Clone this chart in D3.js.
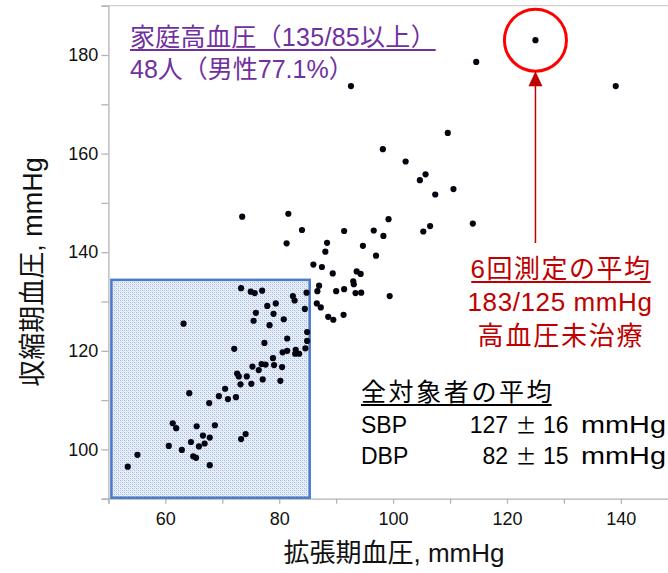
<!DOCTYPE html>
<html>
<head>
<meta charset="utf-8">
<script src="https://cdn.jsdelivr.net/npm/d3@7"></script>
<style>
  body { margin: 0; background: #fff; }
  svg { display: block; }
</style>
</head>
<body>
<svg id="chart" width="668" height="573"></svg>
<script>
// Diastolic (x) and systolic (y) home blood pressure, one entry per subject
const dbp = [73.3,75.0,75.7,77.0,82.4,82.7,84.8,87.0,86.7,86.6,87.3,88.6,77.9,79.4,75.9,79.0,75.5,80.8,78.3,84.5,
             63.2,84.9,84.9,81.4,77.4,72.1,80.6,81.4,82.9,82.8,83.5,84.6,78.9,75.3,76.9,77.6,76.4,79.1,80.5,72.6,
             72.9,74.3,73.2,75.1,77.1,80.2,70.5,69.4,71.0,72.4,64.2,67.7,61.3,61.9,65.5,68.7,66.6,67.8,64.5,65.9,
             66.9,60.6,62.9,73.3,74.1,55.1,64.9,65.4,53.4,67.8,
             98.2,102.2,73.5,81.6,84.0,81.3,91.4,96.6,99.2,98.3,88.4,88.1,94.7,97.0,86.0,87.5,89.4,93.6,94.3,93.0,
             93.1,90.0,91.4,93.4,94.4,99.4,89.5,91.3,
             125,114.6,92.6,139.1,109.6,105.7,104.7,107.4,110.6,105.3,106.5,114.0];
const sbp = [132.7,132.0,131.7,132.2,131.1,130.2,131.8,133.2,132.1,129.6,128.8,126.9,129.1,129.6,127.7,127.5,126.1,126.4,125.2,128.5,
             125.5,123.8,122.0,122.5,121.6,120.4,119.7,120.0,120.2,119.4,119.4,120.5,118.5,116.8,117.3,117.2,116.1,117.1,116.7,115.4,
             114.8,114.8,113.2,113.3,114.2,113.9,112.3,110.8,110.2,110.6,111.4,109.4,105.3,104.3,104.7,104.9,102.8,102.4,101.5,100.6,
             101.2,100.7,99.9,102.1,103.1,98.9,98.6,98.3,96.5,96.8,
             160.9,158.4,147.2,147.8,144.5,141.8,144.3,144.4,146.7,143.3,141.9,140.1,141.3,139.3,137.5,137.0,135.7,136.1,135.6,134.1,
             133.5,132.1,132.5,131.7,131.8,131.1,126.3,127.3,
             183,178.6,173.7,173.7,164.2,155.8,154.6,151.7,152.8,144.2,145.3,145.8];

const xDomain = [50, 150];
const yDomain = [90, 190];
const xTicks = [60, 80, 100, 120, 140];
const yTicks = [100, 120, 140, 160, 180];
const xMinor = d3.range(50, 151, 10);
const yMinor = d3.range(90, 191, 10);

// Home hypertension threshold region (DBP < 85, SBP < 135)
const boxDbp = [50, 85];
const boxSbp = [90, 135];

// Highlighted subject: mean of six measurements
const highlight = { dbp: 125, sbp: 183 };

// Summary of all subjects: [label, mean, SD]
const summaryRows = [["SBP", 127, 16], ["DBP", 82, 15]];

const svg = d3.select("#chart");
const latin = "'Liberation Sans', Arial, 'Noto Sans CJK JP', sans-serif";
const cjk = "'Noto Sans CJK JP', sans-serif";

const x = d3.scaleLinear().domain(xDomain).range([108.4, 677.8]);
const y = d3.scaleLinear().domain(yDomain).range([498.7, 5.7]);

// Dotted fill for the threshold region
const defs = svg.append("defs");
const pat = defs.append("pattern").attr("id", "dots")
  .attr("width", 4).attr("height", 4).attr("patternUnits", "userSpaceOnUse");
pat.append("rect").attr("width", 4).attr("height", 4).attr("fill", "#e9eff9");
[[0,0,"#9fb6e3"],[2,2,"#9fb6e3"],[2,0,"#c4d3ef"],[0,2,"#c4d3ef"],[1,1,"#d6e1f4"],[3,3,"#d6e1f4"]].forEach(([a,b,c]) => {
  pat.append("rect").attr("x", a).attr("y", b).attr("width", 1).attr("height", 1).attr("fill", c);
});

// Top frame line
const axisColor = "#b4b4b4";
svg.append("line").attr("x1", x(50)).attr("x2", 668).attr("y1", y(190)).attr("y2", y(190))
  .attr("stroke", "#d0d0d0").attr("stroke-width", 1.2);

// Y axis
const yAxis = d3.axisLeft(y).tickValues(yMinor).tickSize(7).tickFormat(d => yTicks.includes(d) ? d : "");
const gy = svg.append("g").attr("transform", `translate(${x(50)},0)`).call(yAxis);
gy.select(".domain").attr("stroke", axisColor).attr("stroke-width", 1.3);
gy.selectAll(".tick line").attr("stroke", axisColor).attr("stroke-width", 1.3);
gy.selectAll(".tick text").attr("font-family", latin).attr("font-size", 18).attr("fill", "#111").attr("x", -10);

// X axis
const xAxis = d3.axisBottom(x).tickValues(xMinor).tickSize(5).tickFormat(d => xTicks.includes(d) ? d : "");
const gx = svg.append("g").attr("transform", `translate(0,${y(90)})`).call(xAxis);
gx.select(".domain").attr("stroke", axisColor).attr("stroke-width", 1.3);
gx.selectAll(".tick line").attr("stroke", axisColor).attr("stroke-width", 1.3);
gx.selectAll(".tick text").attr("font-family", latin).attr("font-size", 18).attr("fill", "#111").attr("y", 14);

// Threshold region
svg.append("rect")
  .attr("x", x(boxDbp[0]) + 3)
  .attr("y", y(boxSbp[1]) + 3)
  .attr("width", x(boxDbp[1]) - x(boxDbp[0]) - 1)
  .attr("height", y(boxSbp[0]) - y(boxSbp[1]) - 4)
  .attr("fill", "url(#dots)")
  .attr("stroke", "#4a7acb").attr("stroke-width", 2.5);

// Subjects
svg.append("g").selectAll("circle").data(d3.range(dbp.length)).join("circle")
  .attr("cx", i => x(dbp[i])).attr("cy", i => y(sbp[i])).attr("r", 3.1)
  .attr("fill", "#050510");

// Axis titles
svg.append("text").attr("x", 394).attr("y", 562).attr("text-anchor", "middle")
  .attr("font-family", latin).attr("font-size", 26).attr("fill", "#111")
  .text("拡張期血圧, mmHg");
svg.append("text").attr("transform", "translate(42,272) rotate(-90)").attr("text-anchor", "middle")
  .attr("font-family", latin).attr("font-size", 27).attr("fill", "#111")
  .text("収縮期血圧, mmHg");

// Text helper with optional underline
function label(txt, px, py, size, color, anchor, underline, spacing) {
  const t = svg.append("text").attr("x", px).attr("y", py).attr("text-anchor", anchor || "start")
    .attr("font-family", latin).attr("font-size", size).attr("fill", color)
    .attr("letter-spacing", spacing || 0).text(txt);
  if (underline) {
    const b = t.node().getBBox();
    const w = b.width - (spacing || 0);
    const x0 = anchor === "middle" ? px - w / 2 : (anchor === "end" ? px - w : px);
    svg.append("line").attr("x1", x0).attr("x2", x0 + w)
      .attr("y1", py + 4).attr("y2", py + 4).attr("stroke", color).attr("stroke-width", 2);
  }
  return t;
}

// Group description
const purple = "#7030a0";
label("家庭高血圧（135/85以上）", 130, 46, 25, purple, "start", true, 0.3);
label("48人（男性77.1%）", 130, 78, 25, purple, "start", false);

// Overall means
label("全対象者の平均", 361, 401, 25, "#000", "start", true, 2.6);
summaryRows.forEach(([name, mean, sd], i) => {
  const py = 433 + i * 31;
  const t = (txt, px, anchor) => svg.append("text").attr("x", px).attr("y", py)
    .attr("text-anchor", anchor).attr("font-family", latin).attr("font-size", 23)
    .attr("fill", "#000").text(txt);
  t(name, 361, "start");
  t(String(mean), 508, "end");
  t("±", 526, "middle").attr("font-family", cjk).attr("font-size", 21);
  t(String(sd), 543, "start");
  t("mmHg", 581, "start").attr("textLength", 85).attr("lengthAdjust", "spacingAndGlyphs");
});

// Highlighted subject annotation
const red = "#c00000";
const hx = x(highlight.dbp), hy = y(highlight.sbp);
svg.append("circle").attr("cx", hx).attr("cy", hy).attr("r", 31)
  .attr("fill", "none").attr("stroke", "#ff0000").attr("stroke-width", 3);
svg.append("line").attr("x1", hx).attr("x2", hx).attr("y1", 243).attr("y2", hy + 44)
  .attr("stroke", red).attr("stroke-width", 1.5);
svg.append("path")
  .attr("d", `M${hx},${hy + 31} L${hx - 7},${hy + 46} L${hx + 7},${hy + 46} Z`)
  .attr("fill", red);
label("6回測定の平均", 561, 278, 26, red, "middle", true, 1.5);
label(`${highlight.sbp}/${highlight.dbp} mmHg`, 560, 311, 26, red, "middle", false, 0.6);
label("高血圧未治療", 561, 345, 26, red, "middle", false, 1.8);
</script>
</body>
</html>
